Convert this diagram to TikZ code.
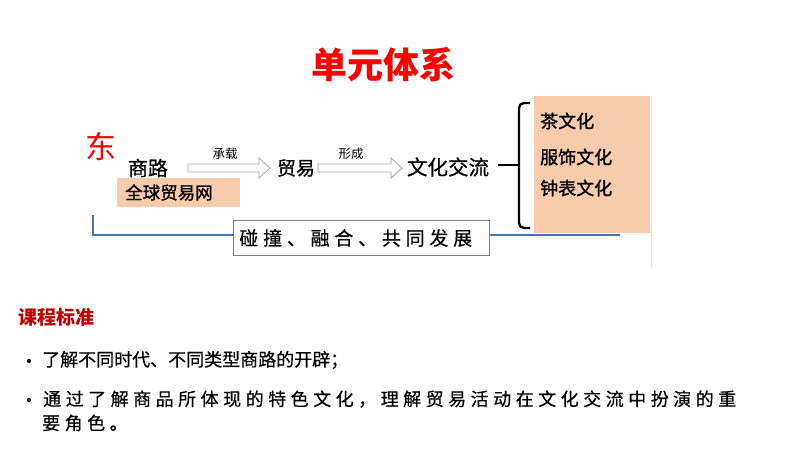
\documentclass[tikz,border=0pt]{standalone}
\usepackage{fontspec}
\setmainfont{Noto Sans CJK SC}
\usetikzlibrary{calc}
\definecolor{peach}{HTML}{F8CBAD}
\definecolor{titlered}{HTML}{FF0000}
\definecolor{darkred}{HTML}{C00000}
\definecolor{lineblue}{HTML}{4472C4}
\definecolor{arrowgray}{HTML}{A6A6A6}
\definecolor{boxgray}{HTML}{7F7F7F}
\newcommand\fs[1]{\fontsize{#1}{#1}\selectfont}
\newcommand\blockarr[2]{%
  \draw[blockarrow] ($(#1)+(0,-4)$) -- ($(#2)+(-11,-4)$) -- ($(#2)+(-11,-10)$) -- (#2)
    -- ($(#2)+(-11,10)$) -- ($(#2)+(-11,4)$) -- ($(#1)+(0,4)$) -- cycle;}
\begin{document}
\begin{tikzpicture}[x=1pt,y=-1pt,
  txt/.style={inner sep=0pt, anchor=center},
  ltxt/.style={inner sep=0pt, anchor=west},
  blockarrow/.style={draw=arrowgray, fill=white, line width=0.8pt},
  peachbox/.style={fill=peach, draw=none},
  bluelink/.style={draw=lineblue, line width=1.8pt},
  bulletdot/.style={circle, fill=black, inner sep=0pt, minimum size=4.2pt},
  bracket/.style={draw=black, line width=2.3pt, rounded corners=5pt}]
\useasboundingbox (0,0) rectangle (794,453);
\fill[white] (0,0) rectangle (794,453);

% title
\node[txt, text=titlered, font=\fs{36}\bfseries] (title) at (383,65) {单元体系};

% right peach box and faint border
\fill[peachbox] (534,96) rectangle (650,233);
\draw[gray!25, line width=0.8pt] (651,96) -- (651,268);

% blue connector
\coordinate (b1) at (93,215);
\coordinate (b2) at (93,235);
\coordinate (b3) at (620,235);
\draw[bluelink] (b1) -- (b2) -- (b3);

% collision box
\node[ltxt, draw=boxgray, fill=white, line width=0.8pt, minimum width=256pt, minimum height=35pt,
      text width=244pt, inner xsep=6pt, font=\fs{19}\addfontfeatures{LetterSpace=25,FakeBold=0.5}] (pz) at (233,238) {碰撞、融合、共同发展};

% left peach box
\node[ltxt, peachbox, minimum width=123pt, minimum height=29pt, inner xsep=8pt,
      text width=107pt, font=\fs{17.5}\addfontfeatures{FakeBold=1.2}] (qq) at (117,192.5) {全球贸易网};

% top chain
\node[txt, text=titlered, font=\fs{31}] (dong) at (101,146) {东};
\node[txt, font=\fs{20}\addfontfeatures{FakeBold=0.8}] (shanglu) at (148,168) {商路};
\node[txt, font=\fs{19}\addfontfeatures{FakeBold=0.8}] (maoyi) at (296,168) {贸易};
\node[txt, font=\fs{20.5}\addfontfeatures{FakeBold=0.8}] (wenhua) at (448,167) {文化交流};
\coordinate (a1s) at (188,168);
\coordinate (a1e) at (270,168);
\coordinate (a2s) at (318,168);
\coordinate (a2e) at (402,168);
\blockarr{a1s}{a1e}
\blockarr{a2s}{a2e}
\node[txt, font=\fs{12.5}] (cz) at (225,154) {承载};
\node[txt, font=\fs{12.5}] (xc) at (351,154) {形成};

% bracket
\draw[bracket] (530,103) -- (519,103) -- (519,228) -- (530,228);
\coordinate (tick) at (498,165);
\coordinate (tickend) at (519,165);
\draw[line width=2.3pt] (tick) -- (tickend);

\node[ltxt, font=\fs{18}\addfontfeatures{FakeBold=1.2}] (cha) at (540,121) {茶文化};
\node[ltxt, font=\fs{18}\addfontfeatures{FakeBold=1.2}] (fs) at (540,157) {服饰文化};
\node[ltxt, font=\fs{18}\addfontfeatures{FakeBold=1.2}] (zb) at (540,188) {钟表文化};

% course standards
\node[ltxt, text=darkred, font=\fs{19}\bfseries] (kc) at (18,317) {课程标准};
\node[bulletdot] (dot1) at (29,361) {};
\node[ltxt, font=\fs{18}\addfontfeatures{FakeBold=0.5}] (l1) at (42,360) {了解不同时代、不同类型商路的开辟；};
\node[bulletdot] (dot2) at (29,400) {};
\node[ltxt, font=\fs{18}\addfontfeatures{LetterSpace=25,FakeBold=0.5}] (l2) at (43,399) {通过了解商品所体现的特色文化，理解贸易活动在文化交流中扮演的重};
\node[ltxt, font=\fs{18}\addfontfeatures{LetterSpace=25,FakeBold=0.5}] (l3) at (42,423) {要角色。};
\end{tikzpicture}
\end{document}
